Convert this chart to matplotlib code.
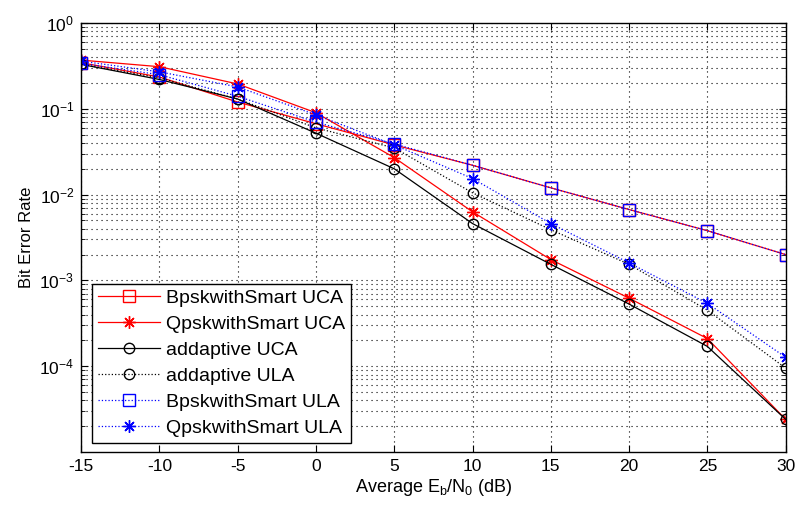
import matplotlib
matplotlib.use("Agg")
import matplotlib.pyplot as plt
from matplotlib.ticker import LogLocator, FixedLocator, NullFormatter

plt.rcParams.update({
    "font.family": ["Liberation Sans", "DejaVu Sans"],
    "font.size": 12,
    "axes.unicode_minus": False,
    "mathtext.fontset": "custom",
    "mathtext.rm": "Liberation Sans",
    "mathtext.it": "Liberation Sans",
})

snr = [-15, -10, -5, 0, 5, 10, 15, 20, 25, 30]

bpsk_uca = [0.345, 0.235, 0.12, 0.067, 0.038, 0.022, 0.012, 0.0067, 0.0038, 0.0020]
qpsk_uca = [0.37, 0.31, 0.195, 0.09, 0.027, 0.0063, 0.00175, 0.00062, 0.00021, 2.4e-5]
adapt_uca = [0.33, 0.22, 0.13, 0.052, 0.020, 0.0046, 0.00154, 0.00053, 0.00017, 2.4e-5]
adapt_ula = [0.33, 0.23, 0.13, 0.060, 0.035, 0.0105, 0.0039, 0.00154, 0.00045, 9.5e-5]
bpsk_ula = [0.34, 0.25, 0.14, 0.07, 0.039, 0.022, 0.012, 0.0067, 0.0038, 0.0020]
qpsk_ula = [0.36, 0.27, 0.18, 0.085, 0.038, 0.0154, 0.0046, 0.0016, 0.00054, 0.000127]

star = (8, 2, 0)

fig = plt.figure(figsize=(7.96, 5.07), dpi=100)
ax = fig.add_axes([0.102, 0.1085, 0.885, 0.846])

ax.semilogy(snr, bpsk_uca, "r-", marker="s", lw=0.9, ms=9, mfc="none", mew=1.0, label="BpskwithSmart UCA")
ax.semilogy(snr, qpsk_uca, "r-", marker=star, lw=0.9, ms=9, mew=1.0, label="QpskwithSmart UCA")
ax.semilogy(snr, adapt_uca, "k-", marker="o", lw=0.9, ms=7.5, mfc="none", mew=1.0, label="addaptive UCA")
ax.semilogy(snr, adapt_ula, "k:", marker="o", lw=0.9, ms=7.5, mfc="none", mew=1.0, label="addaptive ULA")
ax.semilogy(snr, bpsk_ula, "b:", marker="s", lw=0.9, ms=9, mfc="none", mew=1.0, label="BpskwithSmart ULA")
ax.semilogy(snr, qpsk_ula, "b:", marker=star, lw=0.9, ms=9, mew=1.0, label="QpskwithSmart ULA")

ax.set_xlim(-15, 30)
ax.set_ylim(1e-5, 1)
ax.set_xticks(range(-15, 31, 5))
ax.yaxis.set_major_locator(FixedLocator([1e-4, 1e-3, 1e-2, 1e-1, 1e0]))
ax.yaxis.set_minor_locator(LogLocator(base=10, subs=range(2, 10), numticks=20))
ax.yaxis.set_minor_formatter(NullFormatter())

ax.grid(True, which="major", ls=(0, (1, 3.5)), color="black", lw=0.8)
ax.grid(True, which="minor", axis="y", ls=(0, (1, 3.5)), color="black", lw=0.8)
ax.tick_params(which="both", direction="in", top=True, right=True, labelsize=12.5)
ax.tick_params(which="major", length=5, pad=5)
ax.tick_params(which="minor", length=3)
for s in ax.spines.values():
    s.set_linewidth(1.0)

ax.set_xlabel("Average E$_\\mathrm{b}$/N$_\\mathrm{0}$ (dB)", fontsize=13, labelpad=2)
ax.set_ylabel("Bit Error Rate", fontsize=12)

leg = ax.legend(loc="lower left", bbox_to_anchor=(0.0156, 0.021), borderaxespad=0,
                fontsize=14, fancybox=False, framealpha=1, edgecolor="black",
                handlelength=3.2, handletextpad=0.3, labelspacing=0.43,
                borderpad=0.3)
leg.get_frame().set_linewidth(1.0)

fig.savefig("out.png", dpi=100)
